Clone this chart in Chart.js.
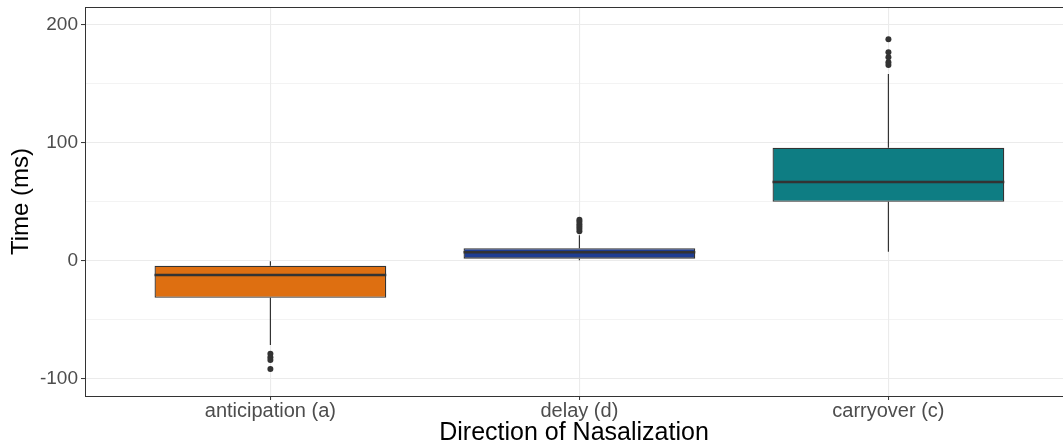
<!DOCTYPE html>
<html>
<head>
<meta charset="utf-8">
<script src="https://cdn.jsdelivr.net/npm/chart.js@4/dist/chart.umd.min.js"></script>
<style>
  html, body { margin: 0; padding: 0; background: #ffffff; }
  #wrap { width: 1063px; height: 448px; overflow: hidden; }
</style>
</head>
<body>
<div id="wrap"><canvas id="c" width="1063" height="448"></canvas></div>
<script>
// Box-plot summary per direction of nasalization (ms)
const categories = ['anticipation (a)', 'delay (d)', 'carryover (c)'];
const whiskerLow = [-71.5, 0.3, 7.6];
const q1 = [-31.4, 1.7, 50.0];
const medians = [-12.1, 7.1, 66.8];
const q3 = [-4.2, 10.5, 95.9];
const whiskerHigh = [-0.4, 21.5, 158.4];
const outliers = [
  [-79.0, -82.0, -84.2, -91.9],
  [25.0, 27.0, 29.0, 31.0, 33.0, 34.8],
  [166.0, 168.3, 172.5, 176.8, 187.8]
];
const yTickValues = [-100, -50, 0, 50, 100, 150, 200];
const boxColors = ['#DE6F11', '#1E3D92', '#0E7D83'];

const BOX_WIDTH = 0.75;
const FONT = "'Liberation Sans', Arial, sans-serif";
const INK = '#333333';

// Whisker segments: lower end -> Q1, gap, Q3 -> upper end
const whiskerPts = [];
categories.forEach((c, i) => {
  const x = i + 1;
  whiskerPts.push({x, y: whiskerLow[i]}, {x, y: q1[i]}, {x, y: null});
  whiskerPts.push({x, y: q3[i]}, {x, y: whiskerHigh[i]}, {x, y: null});
});

// Median bars spanning the box width
const medianPts = [];
categories.forEach((c, i) => {
  const x = i + 1;
  medianPts.push({x: x - BOX_WIDTH / 2, y: medians[i]}, {x: x + BOX_WIDTH / 2, y: medians[i]}, {x, y: null});
});

const outlierPts = [];
outliers.forEach((vals, i) => vals.forEach(v => outlierPts.push({x: i + 1, y: v})));

const boxPts = categories.map((c, i) => ({x: i + 1, y: [q1[i], q3[i]]}));

// Panel frame line along the top edge
const frameTop = {
  id: 'frameTop',
  afterDraw(chart) {
    const {ctx, chartArea: a} = chart;
    ctx.save();
    ctx.strokeStyle = INK;
    ctx.lineWidth = 1;
    ctx.beginPath();
    ctx.moveTo(a.left, Math.round(a.top) + 0.5);
    ctx.lineTo(a.right, Math.round(a.top) + 0.5);
    ctx.stroke();
    ctx.restore();
  }
};

new Chart(document.getElementById('c'), {
  type: 'bar',
  data: {
    datasets: [
      {
        type: 'line', label: 'median', data: medianPts, order: 0,
        borderColor: INK, borderWidth: 2.4, pointRadius: 0, spanGaps: false,
        borderCapStyle: 'butt', tension: 0
      },
      {
        type: 'scatter', label: 'outliers', data: outlierPts, order: 1,
        backgroundColor: INK, borderColor: INK, pointRadius: 3, pointBorderWidth: 0
      },
      {
        type: 'bar', label: 'box', data: boxPts, order: 2,
        backgroundColor: boxColors, borderColor: INK, borderWidth: 1.3,
        borderSkipped: false, categoryPercentage: 1, barPercentage: BOX_WIDTH
      },
      {
        type: 'line', label: 'whiskers', data: whiskerPts, order: 3,
        borderColor: INK, borderWidth: 1.2, pointRadius: 0, spanGaps: false,
        borderCapStyle: 'butt', tension: 0
      }
    ]
  },
  options: {
    responsive: false,
    animation: false,
    events: [],
    layout: { autoPadding: false, padding: { top: 7, right: 0, bottom: 0, left: 0 } },
    plugins: { legend: { display: false }, tooltip: { enabled: false } },
    scales: {
      x: {
        type: 'linear',
        offset: false,
        min: 0.4,
        max: 3.565,
        afterBuildTicks: s => { s.ticks = categories.map((c, i) => ({value: i + 1})); },
        afterFit: s => { s.height = 52; s.paddingLeft = 0; s.paddingRight = 0; },
        grid: { offset: false, color: '#ebebeb', lineWidth: 1.1, tickLength: 4, tickColor: INK, tickWidth: 1 },
        border: { color: INK, width: 1 },
        ticks: {
          autoSkip: false, maxRotation: 0, padding: 1,
          color: '#4d4d4d', font: { family: FONT, size: 20, lineHeight: 1.0 },
          callback: v => categories[v - 1] ?? ''
        },
        title: {
          display: true, text: 'Direction of Nasalization', color: '#000000',
          font: { family: FONT, size: 25, lineHeight: 1.2 }, padding: { top: 0, bottom: 0 }
        }
      },
      y: {
        type: 'linear',
        min: -114.8,
        max: 215.2,
        afterBuildTicks: s => { s.ticks = yTickValues.map(v => ({value: v})); },
        afterFit: s => { s.width = 85; s.paddingTop = 0; s.paddingBottom = 0; },
        grid: {
          color: '#ebebeb',
          lineWidth: c => (c.tick && c.tick.value % 100 === 0) ? 1.1 : 0.6,
          tickLength: 4,
          tickColor: c => (c.tick && c.tick.value % 100 === 0) ? INK : 'rgba(0,0,0,0)',
          tickWidth: 1
        },
        border: { color: INK, width: 1 },
        ticks: {
          padding: 3, color: '#4d4d4d', font: { family: FONT, size: 19 },
          callback: v => (v % 100 === 0 ? String(v) : '')
        },
        title: {
          display: true, text: 'Time (ms)', color: '#000000',
          font: { family: FONT, size: 24, lineHeight: 1.2 }, padding: { top: 7, bottom: 0 }
        }
      }
    }
  },
  plugins: [frameTop]
});
</script>
</body>
</html>
